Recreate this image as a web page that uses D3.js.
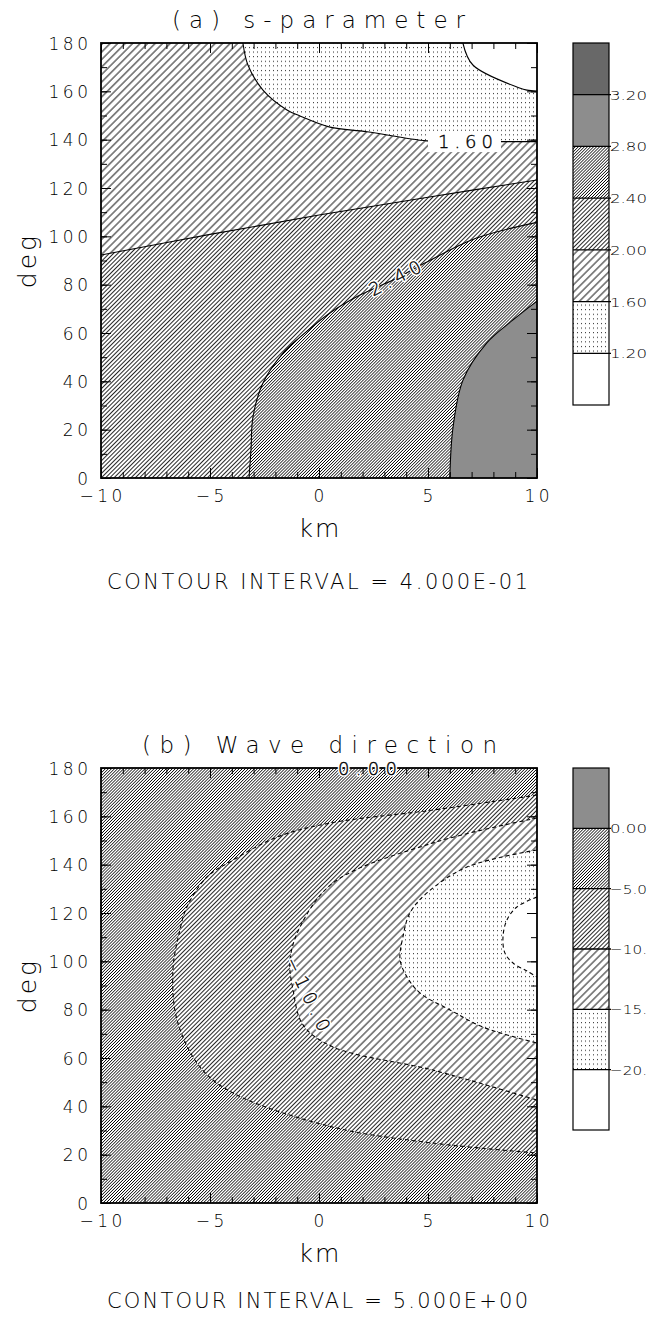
<!DOCTYPE html>
<html><head><meta charset="utf-8">
<script src="https://cdn.jsdelivr.net/npm/d3@7"></script>
<style>
body{margin:0;background:#fff}
svg{display:block}
text{font-family:"DejaVu Sans","Liberation Sans",Arial,sans-serif;font-weight:200;fill:#000}
</style>
</head><body>
<svg id="c" width="652" height="1318"></svg>
<script>
// ---------------- DATA ----------------
const kmTicks = [-10, -5, 0, 5, 10];
const kmTickLabels = ["−10", "−5", "0", "5", "10"];
const kmMinor = [-10,-9,-8,-7,-6,-5,-4,-3,-2,-1,0,1,2,3,4,5,6,7,8,9,10];
const degTicks = [0, 20, 40, 60, 80, 100, 120, 140, 160, 180];
const degMinor = [0,10,20,30,40,50,60,70,80,90,100,110,120,130,140,150,160,170,180];

// panel (a) s-parameter : contour lines, [km, deg]
const levelLabelsA = ["3.20", "2.80", "2.40", "2.00", "1.60", "1.20"];
const contourA120 = [[6.6,180],[7.06,170.9],[9.2,161.4],[9.54,160.5],[10,160.1]];
const contourA160 = [[-3.49,180],[-3.26,170.9],[-2.57,160.5],[-1.47,152.3],[-0.87,149.8],[0.5,145.2],[2.2,143.3],[4.95,139.5],[7.4,139.2],[10,139.2]];
const contourA200 = [[-10,92.3],[-5,100.8],[0,108.8],[5,116.2],[10,123.3]];
const contourA240 = [[-3.21,0],[-3.12,11.6],[-3.03,25.2],[-2.57,39.3],[-1.65,51.7],[-0.87,58.3],[0.5,68.3],[1.88,75.7],[3.49,82.3],[4.95,89.4],[7.2,99.2],[10,105.8]];
const contourA280 = [[6.0,0],[6.15,21.1],[6.61,40.6],[7.7,55.9],[8.9,65.4],[10,73.2]];
const labelA160 = {text:"1.60", at:[6.72,139.2], angle:0, len:55};
const labelA240 = {text:"2.40", at:[3.49,82.8], angle:-27, len:56};

// panel (b) wave direction
const levelLabelsB = ["0.00", "−5.0", "−10.", "−15.", "−20."];
const contourB5  = [[10,168.8],[5.23,162.6],[0.5,157.2],[-1.93,151.4],[-3.94,141.9],[-5.14,134.9],[-6.06,122.5],[-6.38,113],[-6.7,96.4],[-6.51,75.7],[-5.46,56.3],[-3.94,45.5],[0.64,31.4],[5.23,24.8],[10,20.7]];
const contourB10 = [[10,159.3],[5.23,149],[0.64,132.4],[-0.87,114.2],[-1.33,100.6],[-1.19,88.1],[-0.73,73.7],[0.64,64.6],[5.23,55],[10,42.6]];
const contourB15 = [[10,146.1],[6.79,139],[4.95,128.3],[4.17,120],[3.85,110.1],[3.72,100.6],[4.04,93.5],[4.63,86.9],[6.01,79.9],[7.52,72.8],[10,66.2]];
const contourB20 = [[10,126.6],[9.08,122.5],[8.62,117.1],[8.44,110.1],[8.53,103.4],[8.9,99.3],[9.54,96],[10,93.5]];
const labelB0  = {text:"0.00", at:[2.22,180], angle:0, len:59};
const labelB10 = {text:"−10.0", at:[-0.5,86.5], angle:64.5, len:80};

// ---------------- DRAWING ----------------
const svg = d3.select("#c");
const defs = svg.append("defs");
const hatchSpecs = [
  {id:"h1", s:5.3, w:0.9},
  {id:"h2", s:3.0, w:0.85},
  {id:"h3", s:2.15, w:0.75},
  {id:"h4", s:1.8, w:0.85},
  {id:"h5", s:1.6, w:0.95}
];
hatchSpecs.forEach(h => {
  const p = defs.append("pattern").attr("id", h.id).attr("patternUnits","userSpaceOnUse")
    .attr("width", h.s).attr("height", 20).attr("patternTransform","rotate(45)");
  p.append("rect").attr("x",0).attr("y",0).attr("width",h.s).attr("height",20).attr("fill","#fff");
  p.append("line").attr("x1", h.s/2).attr("x2", h.s/2).attr("y1", -1).attr("y2", 21)
    .attr("stroke","#000").attr("stroke-width", h.w);
});
const dp = defs.append("pattern").attr("id","dots").attr("patternUnits","userSpaceOnUse")
  .attr("width",4).attr("height",4.6);
dp.append("rect").attr("x",0).attr("y",0).attr("width",4).attr("height",4.6).attr("fill","#fff");
dp.append("rect").attr("x",1).attr("y",1).attr("width",1).attr("height",1).attr("fill","#222");

const X0 = 101, X1 = 537;
const x = d3.scaleLinear().domain([-10,10]).range([X0, X1]);
const corner = {tl:[-10,180], tr:[10,180], bl:[-10,0], br:[10,0]};

function addText(g, t, o) {
  const el = g.append("text").text(t);
  Object.entries(o).forEach(([k,v]) => {
    if (["letter-spacing","font-size"].includes(k)) el.style(k, v); else el.attr(k, v);
  });
  return el;
}

function panel(cfg) {
  const y = d3.scaleLinear().domain([0,180]).range([cfg.bottom, cfg.top]);
  const g = svg.append("g");
  const line = d3.line().x(d => x(d[0])).y(d => y(d[1])).curve(d3.curveCatmullRom.alpha(0.5));
  const cid = "clip" + cfg.id;
  defs.append("clipPath").attr("id", cid).append("rect")
    .attr("x", x(-10)).attr("y", y(180)).attr("width", x(10)-x(-10)).attr("height", y(0)-y(180));
  const fg = g.append("g").attr("clip-path", `url(#${cid})`);
  fg.append("rect").attr("x", x(-10)).attr("y", y(180)).attr("width", x(10)-x(-10)).attr("height", y(0)-y(180))
    .attr("fill", `url(#${cfg.base})`);
  cfg.fills.forEach(f => {
    let d = line(f.pts);
    f.corners.forEach(c => { d += `L${x(corner[c][0])},${y(corner[c][1])}`; });
    fg.append("path").attr("d", d + "Z").attr("fill", f.fill);
  });
  cfg.fills.forEach(f => {
    fg.append("path").attr("d", line(f.pts)).attr("fill","none").attr("stroke","#000")
      .attr("stroke-width", 1.1).attr("stroke-dasharray", cfg.dash ? "4,3" : null);
  });
  // ticks
  const tk = (axis, tr) => g.append("g").attr("transform", tr).call(axis)
    .call(s => s.select(".domain").remove()).call(s => s.selectAll("line").attr("stroke-width",1));
  tk(d3.axisLeft(y).tickValues(degMinor).tickSize(-6).tickFormat(""), `translate(${X0},0)`);
  tk(d3.axisLeft(y).tickValues(degTicks).tickSize(-10).tickFormat(""), `translate(${X0},0)`);
  tk(d3.axisRight(y).tickValues(degMinor).tickSize(-6).tickFormat(""), `translate(${X1},0)`);
  tk(d3.axisRight(y).tickValues(degTicks).tickSize(-10).tickFormat(""), `translate(${X1},0)`);
  tk(d3.axisTop(x).tickValues(kmMinor).tickSize(-6).tickFormat(""), `translate(0,${cfg.top})`);
  tk(d3.axisTop(x).tickValues(kmTicks).tickSize(-10).tickFormat(""), `translate(0,${cfg.top})`);
  tk(d3.axisBottom(x).tickValues(kmMinor).tickSize(-6).tickFormat(""), `translate(0,${cfg.bottom})`);
  tk(d3.axisBottom(x).tickValues(kmTicks).tickSize(-10).tickFormat(""), `translate(0,${cfg.bottom})`);
  // frame
  g.append("rect").attr("x", x(-10)).attr("y", y(180)).attr("width", x(10)-x(-10)).attr("height", y(0)-y(180))
    .attr("fill","none").attr("stroke","#000").attr("stroke-width",1.8);
  // contour labels
  cfg.labels.forEach(l => {
    const cx = x(l.at[0]), cy = y(l.at[1]);
    const opts = {x: cx - l.len/2, y: cy, "dominant-baseline":"central",
      "font-size":"18px", textLength: l.len, lengthAdjust:"spacing", transform:`rotate(${l.angle},${cx},${cy})`};
    if (l.box) {
      const t = addText(g, l.text, opts);
      const b = t.node().getBBox();
      g.insert("rect", () => t.node()).attr("x", b.x - 10).attr("y", b.y).attr("width", b.width + 18).attr("height", b.height)
        .attr("fill","#fff").attr("transform",`rotate(${l.angle},${cx},${cy})`);
      t.attr("stroke","#000").attr("stroke-width",0.35);
    } else {
      addText(g, l.text, opts).attr("fill","#fff").attr("stroke","#fff").attr("stroke-width",3.5)
        .attr("stroke-linejoin","round").attr("aria-hidden","true");
      addText(g, l.text, opts).attr("stroke","#000").attr("stroke-width",0.35);
    }
  });
  // tick labels
  g.selectAll(".yl").data(degTicks).join("text").attr("class","yl")
    .attr("x", X0 - 13 + 3.5).attr("y", d => y(d) + 6.5).attr("text-anchor","end")
    .style("font-size","17px").style("letter-spacing","3.5px").text(d => d);
  g.selectAll(".xl").data(kmTicks).join("text").attr("class","xl")
    .attr("x", d => x(d) + 1.75).attr("y", cfg.bottom + 24).attr("text-anchor","middle")
    .style("font-size","17px").style("letter-spacing","3.5px").text((d,i) => kmTickLabels[i]);
  addText(g, "km", {x: (X0+X1)/2 + 1, y: cfg.bottom + cfg.kmDy, "text-anchor":"middle", "font-size":"25px", "letter-spacing":"2px"});
  const dy = (cfg.top + cfg.bottom)/2;
  addText(g, "deg", {x: 0, y: 0, "text-anchor":"middle", "font-size":"25px", "letter-spacing":"3px",
    transform:`translate(36,${dy}) rotate(-90)`});
  addText(g, cfg.title, {x: cfg.titleX, y: cfg.top - 15, "font-size":"23px", textLength: cfg.titleW, lengthAdjust:"spacing"});
  addText(g, cfg.ci, {x: 107, y: cfg.ciY, "font-size":"21px", textLength: 421, lengthAdjust:"spacing"});
  // colour bar
  const n = cfg.legend.length;
  const yb = d3.scaleLinear().domain([0, n]).range([cfg.top, cfg.legBottom]);
  const lg = g.append("g");
  lg.selectAll("rect.band").data(cfg.legend).join("rect").attr("class","band")
    .attr("x", 573).attr("width", 36).attr("y", (d,i) => yb(i)).attr("height", (d,i) => yb(i+1) - yb(i))
    .attr("fill", d => d === "white" ? "#fff" : `url(#${d})`);
  lg.append("rect").attr("x",573).attr("width",36).attr("y", yb(0)).attr("height", yb(n)-yb(0))
    .attr("fill","none").attr("stroke","#000").attr("stroke-width",1.2);
  lg.selectAll("line.sep").data(cfg.legLabels).join("line").attr("class","sep")
    .attr("x1",573).attr("x2",611).attr("y1",(d,i)=>yb(i+1)).attr("y2",(d,i)=>yb(i+1))
    .attr("stroke","#000").attr("stroke-width",1.3);
  lg.selectAll("text").data(cfg.legLabels).join("text")
    .attr("x", 610).attr("y", (d,i) => yb(i+1) + 5)
    .attr("textLength", 37).attr("lengthAdjust","spacingAndGlyphs")
    .style("font-size","13px").text(d => d);
}

panel({
  id:"a", top:43, bottom:478, base:"h2", dash:false,
  fills:[
    {pts:contourA200, corners:["tr","tl"], fill:"url(#h1)"},
    {pts:contourA160, corners:["tr"], fill:"url(#dots)"},
    {pts:contourA120, corners:["tr"], fill:"#fff"},
    {pts:contourA240, corners:["br"], fill:"url(#h3)"},
    {pts:contourA280, corners:["br"], fill:"url(#h4)"}
  ],
  labels:[Object.assign({box:true}, labelA160), labelA240],
  title:"(a) s-parameter", titleX:172, titleW:293, kmDy:59,
  ci:"CONTOUR INTERVAL = 4.000E-01", ciY:589,
  legend:["h5","h4","h3","h2","h1","dots","white"], legLabels: levelLabelsA, legBottom:405
});
panel({
  id:"b", top:768, bottom:1203, base:"h3", dash:true,
  fills:[
    {pts:contourB5, corners:[], fill:"url(#h2)"},
    {pts:contourB10, corners:[], fill:"url(#h1)"},
    {pts:contourB15, corners:[], fill:"url(#dots)"},
    {pts:contourB20, corners:[], fill:"#fff"}
  ],
  labels:[labelB0, labelB10],
  title:"(b) Wave direction", titleX:142, titleW:355, kmDy:59,
  ci:"CONTOUR INTERVAL = 5.000E+00", ciY:1308,
  legend:["h4","h3","h2","h1","dots","white"], legLabels: levelLabelsB, legBottom:1130
});
</script>
</body></html>
